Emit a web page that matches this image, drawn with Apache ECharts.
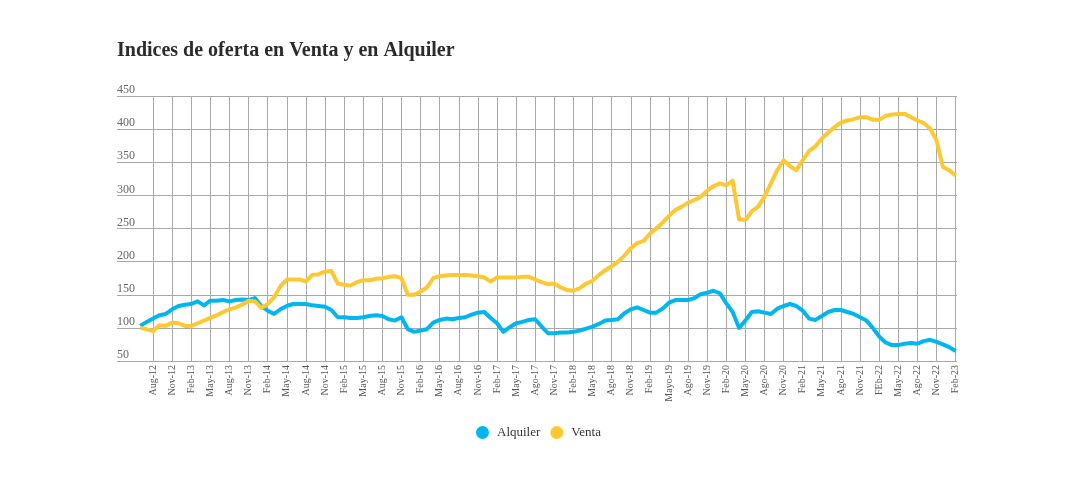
<!DOCTYPE html>
<html>
<head>
<meta charset="utf-8">
<script src="https://cdn.jsdelivr.net/npm/echarts@6/dist/echarts.min.js"></script>
<style>
html,body{margin:0;padding:0;background:#fff;}
#chart{width:1080px;height:485px;}
</style>
</head>
<body>
<div id="chart"></div>
<script>
// Monthly categories from Jun-12 to Feb-23 (129 months)
const monthAbbr = ['Ene','Feb','Mar','Abr','May','Jun','Jul','Ago','Sep','Oct','Nov','Dic'];
const startYear = 2012, startMonth = 5, monthCount = 129;
const categories = [];
for (let k = 0; k < monthCount; k++) {
  const m = (startMonth + k) % 12;
  const y = startYear + Math.floor((startMonth + k) / 12);
  categories.push(monthAbbr[m] + '-' + String(y).slice(2));
}

// Tick labels shown every 3 months starting at Aug-12
const tickLabels = ['Aug-12','Nov-12','Feb-13','May-13','Aug-13','Nov-13','Feb-14','May-14','Aug-14','Nov-14',
  'Feb-15','May-15','Aug-15','Nov-15','Feb-16','May-16','Aug-16','Nov-16','Feb-17','May-17','Ago-17','Nov-17',
  'Feb-18','May-18','Ago-18','Nov-18','Feb-19','Mayo-19','Ago-19','Nov-19','Feb-20','May-20','Ago-20','Nov-20',
  'Feb-21','May-21','Ago-21','Nov-21','FEb-22','May-22','Ago-22','Nov-22','Feb-23'];

const yTicks = [50,100,150,200,250,300,350,400,450];

const alquiler = [103,109,114,119,121,128,133,135,136,140,134,141,141,142,140,142,143,142,145,133,
  126,121,128,133,136,136,136,134,133,132,127,116,116,115,115,116,118,119,118,113,
  111,116,98,94,96,98,108,112,114,113,115,116,120,123,124,115,107,94,101,107,
  109,112,113,102,92,92,93,93,94,96,99,102,106,111,112,113,122,128,131,127,
  123,123,129,138,142,142,142,145,151,153,156,152,137,124,100,111,124,125,123,121,
  129,133,136,133,126,114,112,118,124,127,127,124,121,116,111,100,87,78,74,74,
  76,77,76,80,82,79,75,71,65];

const venta = [100,98,95,104,103,108,107,103,103,107,111,115,119,124,128,131,135,141,140,130,
  136,146,163,173,173,173,170,180,181,185,186,167,165,164,169,172,172,174,175,177,
  178,175,150,150,155,161,175,178,179,180,180,180,179,178,176,170,176,176,176,176,
  177,177,173,169,166,167,161,157,156,160,167,171,180,187,193,200,209,220,228,231,
  242,250,259,269,278,283,289,293,298,307,314,318,315,322,264,263,276,283,298,318,
  338,353,344,338,353,367,374,386,395,403,410,413,415,418,418,414,414,420,422,423,
  423,418,413,409,401,383,343,338,330];

const showTick = (i) => i >= 2 && (i - 2) % 3 === 0;
const serif = 'Liberation Serif';

const chart = echarts.init(document.getElementById('chart'), null, {renderer: 'canvas'});
chart.setOption({
  animation: false,
  backgroundColor: '#fff',
  title: {
    text: 'Indices de oferta en Venta y en Alquiler',
    left: 117, top: 41, padding: 0,
    textStyle: {fontFamily: serif, fontSize: 20, fontWeight: 'bold', color: '#2b2b2b'}
  },
  legend: {
    data: ['Alquiler','Venta'],
    left: 471, top: 421,
    icon: 'circle', itemWidth: 13, itemHeight: 13, itemGap: 10,
    textStyle: {fontFamily: serif, fontSize: 13, color: '#333', padding: [0,0,0,3]}
  },
  grid: [
    {left: 117, right: 123, top: 96, bottom: 124},
    {left: 140.3, right: 124.4, top: 96, bottom: 124}
  ],
  xAxis: [
    {gridIndex: 0, type: 'value', min: 0, max: 1, show: false},
    {
      gridIndex: 1, type: 'category', data: categories, boundaryGap: false,
      axisLine: {show: false}, axisTick: {show: false},
      splitLine: {show: true, interval: (i) => showTick(i), lineStyle: {color: '#a8a8a8', width: 1}},
      axisLabel: {
        interval: (i) => showTick(i), rotate: 90, margin: 4,
        fontFamily: serif, fontSize: 10, color: '#555',
        formatter: (v, i) => tickLabels[(i - 2) / 3]
      }
    }
  ],
  yAxis: [
    {
      gridIndex: 0, type: 'value', min: 50, max: 450, interval: 50,
      axisLine: {show: false}, axisTick: {show: false},
      splitLine: {show: true, lineStyle: {color: '#a8a8a8', width: 1}},
      axisLabel: {inside: true, margin: 0, verticalAlign: 'bottom', align: 'left',
        padding: [0,0,0,0],
        fontFamily: serif, fontSize: 12, color: '#666',
        formatter: (v) => yTicks.includes(v) ? String(v) : ''}
    },
    {gridIndex: 1, type: 'value', min: 50, max: 450, interval: 50, show: false, splitLine: {show: false}}
  ],
  series: [
    {name: 'Alquiler', type: 'line', xAxisIndex: 1, yAxisIndex: 1, data: alquiler,
      showSymbol: false, symbol: 'circle', color: '#00b6f0',
      lineStyle: {width: 4, color: '#00b6f0', join: 'round'}},
    {name: 'Venta', type: 'line', xAxisIndex: 1, yAxisIndex: 1, data: venta,
      showSymbol: false, symbol: 'circle', color: '#fec832',
      lineStyle: {width: 4, color: '#fec832', join: 'round'}}
  ]
});
</script>
</body>
</html>
